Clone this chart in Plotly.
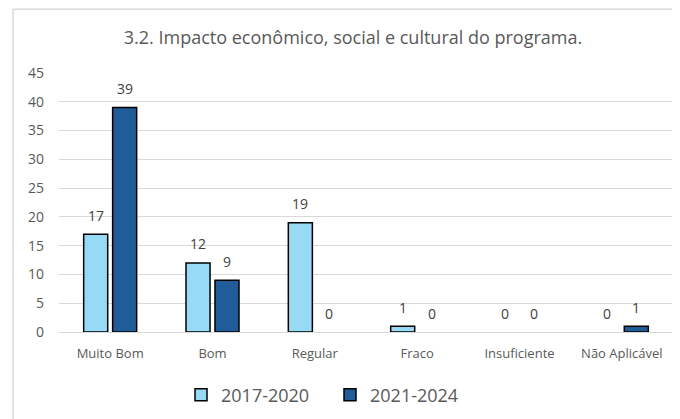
import plotly.graph_objects as go

categories = ["Muito Bom", "Bom", "Regular", "Fraco", "Insuficiente", "Não Aplicável"]
series_names = ["2017-2020", "2021-2024"]
values_2017_2020 = [17, 12, 19, 1, 0, 0]
values_2021_2024 = [39, 9, 0, 0, 0, 1]
y_ticks = [0, 5, 10, 15, 20, 25, 30, 35, 40, 45]

colors = ["#97DAF6", "#1F5C99"]
FONT = "Open Sans"

fig = go.Figure()
for name, vals, col in zip(series_names, [values_2017_2020, values_2021_2024], colors):
    fig.add_trace(go.Bar(
        x=categories, y=vals, name=name,
        marker=dict(color=col, line=dict(color="#000000",
                                         width=[1.5 if v != 0 else 0 for v in vals])),
    ))

offsets = [-14.5, 14.5]
for off, vals in zip(offsets, [values_2017_2020, values_2021_2024]):
    for c, v in zip(categories, vals):
        fig.add_annotation(x=c, y=v, text=str(v), showarrow=False,
                           xshift=off, yshift=19, yanchor="middle",
                           font=dict(family=FONT, size=14, color="#404040"))

# page has an 8px body margin, so the figure is drawn 8px smaller and offset
W, H = 672, 411
ml, mr, mt, mb = 51, 7, 65, 86
pw, ph = W - ml - mr, H - mt - mb
fig.add_shape(type="rect", xref="paper", yref="paper",
              x0=(5 - ml) / pw, x1=1.3, y0=-0.8, y1=1 + (mt - 1) / ph,
              line=dict(color="#D9D9D9", width=1.5), fillcolor="rgba(0,0,0,0)", layer="below")

fig.update_layout(
    width=W, height=H,
    margin=dict(l=ml, r=mr, t=mt, b=mb),
    paper_bgcolor="white", plot_bgcolor="white",
    barmode="group", bargap=0.434, bargroupgap=0.17,
    title=dict(text="3.2. Impacto econômico, social e cultural do programa.",
               x=345 / W, xanchor="center", y=1 - 30 / H, yanchor="middle",
               font=dict(family=FONT, size=18, color="#595959")),
    xaxis=dict(tickfont=dict(family=FONT, size=13, color="#595959"), ticklabelstandoff=9,
               showline=True, linecolor="#D9D9D9", linewidth=1, ticks="", showgrid=False),
    yaxis=dict(range=[0, 45], tickvals=y_ticks, showgrid=True, gridcolor="#D9D9D9", gridwidth=1,
               tickfont=dict(family=FONT, size=14, color="#595959"), zeroline=False, ticks="",
               ticklabelstandoff=14),
    legend=dict(orientation="h", x=(173 - ml) / pw, xanchor="left",
                y=-(387 - (H - mb)) / ph, yanchor="middle", bgcolor="rgba(0,0,0,0)",
                font=dict(family=FONT, size=18, color="#595959"), itemwidth=30,
                entrywidth=104, entrywidthmode="pixels"),
    showlegend=True,
)

fig.write_html("out.html")
